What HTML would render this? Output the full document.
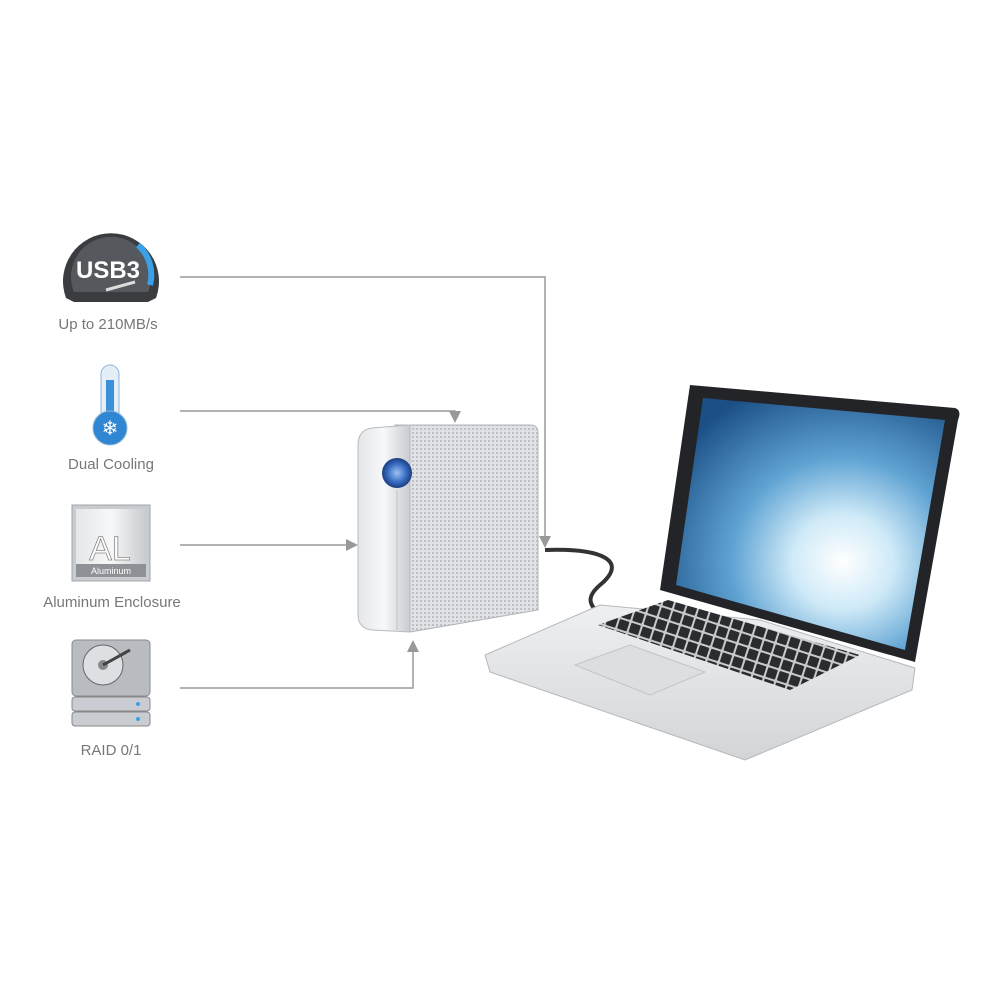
<!DOCTYPE html>
<html><head><meta charset="utf-8"><style>
html,body{margin:0;padding:0;background:#fff;}
svg{display:block}
text{font-family:"Liberation Sans",sans-serif;}
</style></head><body>
<svg width="1000" height="1000" viewBox="0 0 1000 1000" xmlns="http://www.w3.org/2000/svg">
<defs>
<linearGradient id="front" x1="0" y1="0" x2="1" y2="0"><stop offset="0" stop-color="#e4e6e8"/><stop offset="0.5" stop-color="#f7f8f9"/><stop offset="1" stop-color="#c8cbcf"/></linearGradient>
<radialGradient id="btn"><stop offset="0" stop-color="#9fc2f0"/><stop offset="0.6" stop-color="#3a6fc4"/><stop offset="1" stop-color="#1c3d80"/></radialGradient>
<radialGradient id="scr" cx="0.62" cy="0.65" r="0.75"><stop offset="0" stop-color="#ffffff"/><stop offset="0.25" stop-color="#cfeaf8"/><stop offset="0.55" stop-color="#5fa3d3"/><stop offset="1" stop-color="#1b4f85"/></radialGradient>
<linearGradient id="base" x1="0" y1="0" x2="0" y2="1"><stop offset="0" stop-color="#eeeff1"/><stop offset="1" stop-color="#d2d5d8"/></linearGradient>
<pattern id="grill" width="4" height="4" patternUnits="userSpaceOnUse"><rect width="4" height="4" fill="#e0e2e5"/><rect width="2" height="2" fill="#bcc0c4"/></pattern>
<pattern id="keys" width="12" height="12" patternUnits="userSpaceOnUse" patternTransform="rotate(18)"><rect width="12" height="12" fill="#c8cbce"/><rect x="1" y="1" width="10" height="10" rx="1" fill="#2a2c30"/></pattern>
<marker id="ar" markerWidth="8" markerHeight="8" refX="6" refY="4" orient="auto"><path d="M0,0 L8,4 L0,8 z" fill="#999"/></marker>
</defs>
<rect width="1000" height="1000" fill="#fff"/>

<g stroke="#9a9a9a" stroke-width="1.5" fill="none">
<path d="M180,277 H545 V545" marker-end="url(#ar)"/>
<path d="M180,411 H455 V420" marker-end="url(#ar)"/>
<path d="M180,545 H355" marker-end="url(#ar)"/>
<path d="M180,688 H413 V643" marker-end="url(#ar)"/>
</g>

<!-- USB3 gauge -->
<path d="M66,298 A48,48 0 1 1 156,298 L148,302 H74 Z" fill="#3a3c40"/>
<path d="M74,292 A40,40 0 1 1 148,292 Z" fill="#55585d"/>
<path d="M138,245 A40,40 0 0 1 150,285" stroke="#3aa0e8" stroke-width="6" fill="none"/>
<text x="108" y="278" font-size="24" font-weight="bold" fill="#fff" text-anchor="middle">USB3</text>
<line x1="106" y1="290" x2="135" y2="282" stroke="#ddd" stroke-width="3"/>
<text x="108" y="329" font-size="15" fill="#777" text-anchor="middle">Up to 210MB/s</text>

<rect x="101" y="365" width="18" height="60" rx="9" fill="#e3eef8" stroke="#8fb6d8"/>
<rect x="106" y="380" width="8" height="40" fill="#3b8fd8"/>
<circle cx="110" cy="428" r="17" fill="#2f86d3" stroke="#8fb6d8"/>
<text x="110" y="435" font-size="20" fill="#fff" text-anchor="middle">❄</text>
<text x="111" y="469" font-size="15" fill="#777" text-anchor="middle">Dual Cooling</text>

<rect x="72" y="505" width="78" height="76" fill="#c8cbcf" stroke="#a0a4a8"/>
<rect x="76" y="509" width="70" height="68" fill="url(#front)"/>
<text x="110" y="560" font-size="34" fill="#fff" stroke="#888" stroke-width="0.8" text-anchor="middle">AL</text>
<rect x="76" y="564" width="70" height="13" fill="#8e9297"/>
<text x="111" y="574" font-size="9" fill="#fff" text-anchor="middle">Aluminum</text>
<text x="112" y="607" font-size="15" fill="#777" text-anchor="middle">Aluminum Enclosure</text>

<rect x="72" y="640" width="78" height="56" rx="4" fill="#b8bcc1" stroke="#888"/>
<circle cx="103" cy="665" r="20" fill="#dde0e3" stroke="#666"/>
<circle cx="103" cy="665" r="5" fill="#888"/>
<line x1="103" y1="665" x2="130" y2="650" stroke="#444" stroke-width="3"/>
<rect x="72" y="697" width="78" height="14" rx="3" fill="#c9ccd0" stroke="#888"/>
<rect x="72" y="712" width="78" height="14" rx="3" fill="#c9ccd0" stroke="#888"/>
<circle cx="138" cy="704" r="2" fill="#3aa0e8"/><circle cx="138" cy="719" r="2" fill="#3aa0e8"/>
<text x="111" y="755" font-size="15" fill="#777" text-anchor="middle">RAID 0/1</text>

<!-- drive -->
<path d="M395,425 H530 Q538,425 538,433 V610 L410,632 Z" fill="url(#grill)" stroke="#b0b3b7"/>
<path d="M372,428 Q358,430 358,445 V615 Q358,628 372,630 L410,632 V425 Z" fill="url(#front)" stroke="#b8bbbf"/>
<line x1="397" y1="490" x2="397" y2="630" stroke="#c0c3c7"/>
<circle cx="397" cy="473" r="15" fill="url(#btn)"/>

<path d="M545,550 C600,548 630,560 600,585 C585,598 590,605 600,615" stroke="#333" stroke-width="4" fill="none"/>

<!-- laptop base -->
<path d="M485,655 L600,605 L760,620 L915,668 L912,690 L745,760 L490,672 Z" fill="url(#base)" stroke="#b5b8bc"/>
<path d="M598,625 L668,600 L860,655 L790,690 Z" fill="url(#keys)"/>
<path d="M575,665 L630,645 L705,672 L650,695 Z" fill="#dcdee1" stroke="#c2c4c7"/>
<!-- screen -->
<path d="M690,385 L955,408 Q962,410 958,420 L915,662 L660,590 Z" fill="#222428"/>
<path d="M703,398 L945,420 L905,650 L676,585 Z" fill="url(#scr)"/>
</svg>
</body></html>
